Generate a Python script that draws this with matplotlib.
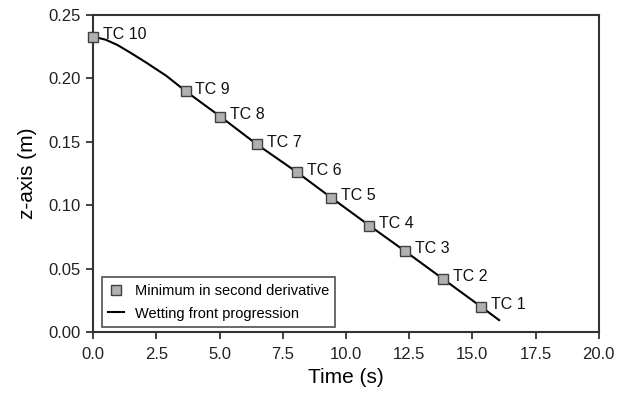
import numpy as np
import matplotlib
matplotlib.use("Agg")
import matplotlib.pyplot as plt

plt.rcParams['font.family'] = ['Liberation Sans', 'DejaVu Sans']

# thermocouple minima (second derivative)
tc_labels = ["TC 10", "TC 9", "TC 8", "TC 7", "TC 6", "TC 5", "TC 4", "TC 3", "TC 2", "TC 1"]
tc_time = [0.0, 3.66, 5.03, 6.48, 8.07, 9.42, 10.93, 12.33, 13.84, 15.35]
tc_z = [0.233, 0.190, 0.170, 0.148, 0.126, 0.106, 0.084, 0.064, 0.042, 0.020]

# wetting front progression line
front_time = [0.0, 0.5, 0.95, 1.5, 2.1, 2.9, 3.66, 5.03, 6.48, 8.07, 9.42, 10.93, 12.33, 13.84, 15.35, 16.06]
front_z = [0.233, 0.2305, 0.2265, 0.220, 0.2125, 0.202, 0.190, 0.170, 0.148, 0.126, 0.106, 0.084, 0.064, 0.042, 0.020, 0.0095]

fig = plt.figure(figsize=(6.25, 3.95), dpi=100)
ax = fig.add_axes([0.149, 0.159, 0.809, 0.803])

ax.plot(front_time, front_z, color="black", linewidth=1.5, label="Wetting front progression", zorder=2)
ax.plot(tc_time, tc_z, linestyle="none", marker="s", markersize=6.5,
        markerfacecolor="#b0b0b0", markeredgecolor="#404040", markeredgewidth=1.0,
        label="Minimum in second derivative", zorder=3, clip_on=False)

for lab, t, z in zip(tc_labels, tc_time, tc_z):
    ax.annotate(lab, (t, z), xytext=(7, 1.5), textcoords="offset points",
                va="center", ha="left", fontsize=11.5, color="#111111")

ax.set_xlim(0, 20)
ax.set_ylim(0, 0.25)
ax.set_xticks(np.arange(0, 20.1, 2.5))
ax.set_yticks(np.arange(0, 0.251, 0.05))
ax.set_xticklabels([f"{v:.1f}" for v in np.arange(0, 20.1, 2.5)])
ax.set_yticklabels([f"{v:.2f}" for v in np.arange(0, 0.251, 0.05)])
ax.tick_params(direction="out", length=5, width=1.2, labelsize=12, colors="#222222", pad=4)
ax.tick_params(axis="x", pad=6)
for s in ax.spines.values():
    s.set_linewidth(1.5)
    s.set_color("#333333")

ax.set_xlabel("Time (s)", fontsize=15, labelpad=4)
ax.set_ylabel("z-axis (m)", fontsize=15, labelpad=8)

handles, labels = ax.get_legend_handles_labels()
leg = ax.legend(handles[::-1], labels[::-1], loc="lower left", bbox_to_anchor=(0.017, 0.016),
                borderaxespad=0, fontsize=10.5, frameon=True, fancybox=False, edgecolor="#222222",
                handlelength=1.1, handletextpad=0.7, borderpad=0.45, labelspacing=0.6)
leg.get_frame().set_linewidth(1.2)

fig.savefig("out.png", dpi=100)
